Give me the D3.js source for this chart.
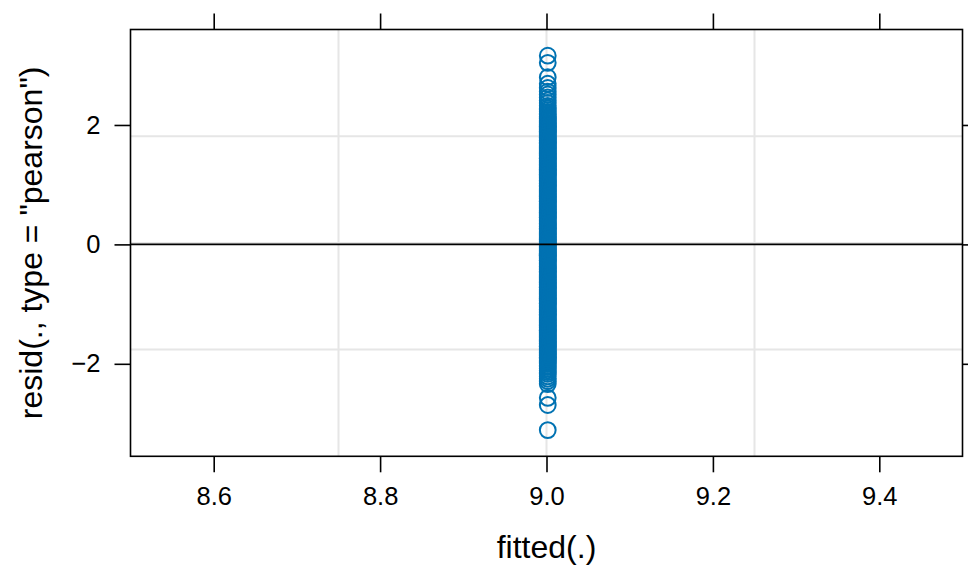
<!DOCTYPE html>
<html>
<head>
<meta charset="utf-8">
<script src="https://cdn.jsdelivr.net/npm/d3@7"></script>
<style>
  html, body { margin: 0; padding: 0; background: #ffffff; }
  svg { display: block; font-family: "Liberation Sans", Arial, Helvetica, sans-serif; }
</style>
</head>
<body>
<svg id="chart" width="968" height="566"></svg>
<script>
// Pearson residuals against fitted values (all fits sit at the intercept)
const fittedValue = 9.0015;
const residualsUpper = [
  3.16, 3.04, 2.80, 2.69, 2.62, 2.56, 2.51, 2.46, 2.41, 2.37, 2.32, 2.28, 2.25, 2.22,
  2.19, 2.17, 2.14, 2.12, 2.10, 2.08, 2.06, 2.04, 2.02, 2.00
];
const residualsMiddle = [
  1.98, 1.97, 1.95, 1.93, 1.91, 1.89, 1.88, 1.86, 1.84, 1.82, 1.80, 1.79, 1.77, 1.75,
  1.73, 1.71, 1.70, 1.68, 1.66, 1.64, 1.62, 1.61, 1.59, 1.57, 1.55, 1.53, 1.52, 1.50,
  1.48, 1.46, 1.44, 1.43, 1.41, 1.39, 1.37, 1.35, 1.34, 1.32, 1.30, 1.28, 1.26, 1.25,
  1.23, 1.21, 1.19, 1.17, 1.16, 1.14, 1.12, 1.10, 1.08, 1.07, 1.05, 1.03, 1.01, 0.99,
  0.98, 0.96, 0.94, 0.92, 0.90, 0.89, 0.87, 0.85, 0.83, 0.81, 0.80, 0.78, 0.76, 0.74,
  0.72, 0.71, 0.69, 0.67, 0.65, 0.63, 0.62, 0.60, 0.58, 0.56, 0.54, 0.53, 0.51, 0.49,
  0.47, 0.45, 0.44, 0.42, 0.40, 0.38, 0.36, 0.35, 0.33, 0.31, 0.29, 0.27, 0.26, 0.24,
  0.22, 0.20, 0.18, 0.17, 0.15, 0.13, 0.11, 0.09, 0.08, 0.06, 0.04, 0.02, 0.00, -0.01,
  -0.03, -0.05, -0.07, -0.09, -0.10, -0.12, -0.14, -0.16, -0.18, -0.19, -0.21, -0.23,
  -0.25, -0.27, -0.28, -0.30, -0.32, -0.34, -0.36, -0.37, -0.39, -0.41, -0.43, -0.45,
  -0.46, -0.48, -0.50, -0.52, -0.54, -0.55, -0.57, -0.59, -0.61, -0.63, -0.64, -0.66,
  -0.68, -0.70, -0.72, -0.73, -0.75, -0.77, -0.79, -0.81, -0.82, -0.84, -0.86, -0.88,
  -0.90, -0.91, -0.93, -0.95, -0.97, -0.99, -1.00, -1.02, -1.04, -1.06, -1.08, -1.09,
  -1.11, -1.13, -1.15, -1.17, -1.18, -1.20, -1.22, -1.24, -1.26, -1.27, -1.29, -1.31,
  -1.33, -1.35, -1.36, -1.38, -1.40, -1.42, -1.44, -1.45, -1.47, -1.49, -1.51, -1.53,
  -1.54, -1.56, -1.58, -1.60, -1.62, -1.63, -1.65, -1.67, -1.69, -1.71, -1.72, -1.74,
  -1.76, -1.78, -1.80, -1.81, -1.83, -1.85, -1.87, -1.89, -1.90
];
const residualsLower = [
  -1.92, -1.94, -1.96, -1.98, -2.00, -2.03, -2.05, -2.08, -2.11, -2.14, -2.17, -2.21,
  -2.25, -2.29, -2.34, -2.57, -2.69, -3.11
];
const residuals = residualsUpper.concat(residualsMiddle, residualsLower);

const xDomain = [8.5, 9.5];
const xTicks = [8.6, 8.8, 9.0, 9.2, 9.4];
const yTicks = [-2, 0, 2];
const xTitle = "fitted(.)";
const yTitle = 'resid(., type = "pearson")';

const svg = d3.select("#chart");
const panel = { left: 130.5, right: 962.5, top: 29.5, bottom: 456.3 };

// y range padded by 7% of the data span on each side
const [rMin, rMax] = d3.extent(residuals);
const pad = 0.07 * (rMax - rMin);

const x = d3.scaleLinear().domain(xDomain).range([panel.left, panel.right]);
const y = d3.scaleLinear().domain([rMin - pad, rMax + pad]).range([panel.bottom, panel.top]);

const fmt = v => d3.format(".1f")(v);
const fmtY = v => (v < 0 ? "\u2212" + Math.abs(v) : String(v));

// background grid: three evenly spaced lines in each direction
const gridX = [1, 2, 3].map(i => xDomain[0] + i * (xDomain[1] - xDomain[0]) / 4);
const yd = y.domain();
const gridY = [1, 2, 3].map(i => yd[0] + i * (yd[1] - yd[0]) / 4);
const grid = svg.append("g").attr("stroke", "#e6e6e6").attr("stroke-width", 2);
grid.selectAll("line.gx").data(gridX).join("line")
  .attr("x1", d => x(d)).attr("x2", d => x(d))
  .attr("y1", panel.top).attr("y2", panel.bottom);
grid.selectAll("line.gy").data(gridY).join("line")
  .attr("y1", d => y(d)).attr("y2", d => y(d))
  .attr("x1", panel.left).attr("x2", panel.right);

// points
svg.append("g").selectAll("circle").data(residuals).join("circle")
  .attr("cx", x(fittedValue))
  .attr("cy", d => y(d))
  .attr("r", 7.9)
  .attr("fill", "none")
  .attr("stroke", "#0072B2")
  .attr("stroke-width", 2);

// zero reference line, drawn over the points
svg.append("line")
  .attr("x1", panel.left).attr("x2", panel.right)
  .attr("y1", y(0)).attr("y2", y(0))
  .attr("stroke", "#000").attr("stroke-width", 1.6);

// axes on all four sides; labels only bottom and left
const tickLen = 16;
const styleAxis = g => {
  g.select(".domain").remove();
  g.selectAll(".tick line").attr("stroke", "#000").attr("stroke-width", 1.6);
  g.selectAll(".tick text").attr("fill", "#000").attr("font-size", 25.5)
    .attr("font-family", '"Liberation Sans", Arial, sans-serif');
};
svg.append("g").attr("transform", `translate(0,${panel.bottom})`)
  .call(d3.axisBottom(x).tickValues(xTicks).tickFormat(fmt).tickSize(tickLen).tickPadding(15))
  .call(styleAxis);
svg.append("g").attr("transform", `translate(0,${panel.top})`)
  .call(d3.axisTop(x).tickValues(xTicks).tickFormat("").tickSize(tickLen))
  .call(styleAxis);
svg.append("g").attr("transform", `translate(${panel.left},0)`)
  .call(d3.axisLeft(y).tickValues(yTicks).tickFormat(fmtY).tickSize(tickLen).tickPadding(14))
  .call(styleAxis);
svg.append("g").attr("transform", `translate(${panel.right},0)`)
  .call(d3.axisRight(y).tickValues(yTicks).tickFormat("").tickSize(tickLen))
  .call(styleAxis);

// panel frame
svg.append("rect")
  .attr("x", panel.left).attr("y", panel.top)
  .attr("width", panel.right - panel.left).attr("height", panel.bottom - panel.top)
  .attr("fill", "none").attr("stroke", "#000").attr("stroke-width", 1.6);

// axis titles
svg.append("text")
  .attr("x", (panel.left + panel.right) / 2).attr("y", 558)
  .attr("text-anchor", "middle").attr("font-size", 32).attr("fill", "#000")
  .text(xTitle);
svg.append("text")
  .attr("transform", `translate(42,${(panel.top + panel.bottom) / 2}) rotate(-90)`)
  .attr("text-anchor", "middle").attr("font-size", 32).attr("fill", "#000")
  .text(yTitle);
</script>
</body>
</html>
